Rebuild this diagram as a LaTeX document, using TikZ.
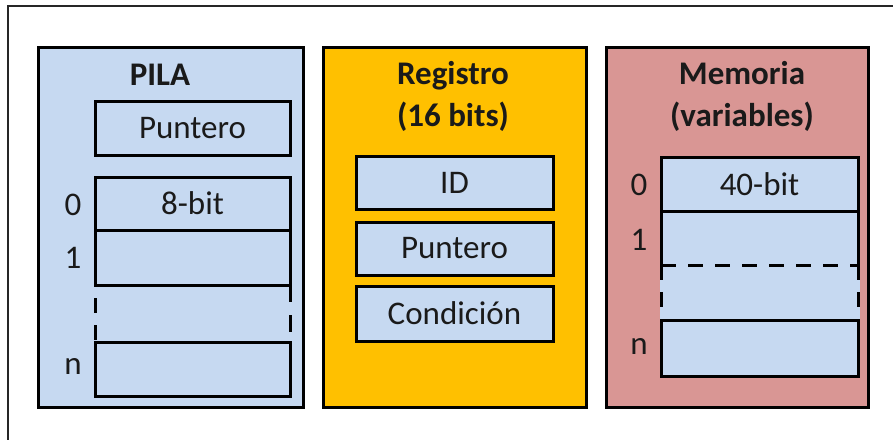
\documentclass[tikz,border=0pt]{standalone}
\usepackage{fontspec}
\setmainfont{Carlito}
\definecolor{cellblue}{HTML}{C6D9F1}
\definecolor{regorange}{HTML}{FFC000}
\definecolor{memred}{HTML}{D99694}
\definecolor{txt}{HTML}{1A1A1A}
\begin{document}
\begin{tikzpicture}[x=1pt,y=-1pt,
  every node/.style={inner sep=0pt,outer sep=0pt,text=txt,font=\fontsize{33}{42}\selectfont},
  panel/.style={draw=black,line width=3pt,minimum width=#1,minimum height=360pt},
  cell/.style={draw=black,line width=3pt,fill=cellblue,minimum width=195pt},
  cellnb/.style={fill=cellblue,minimum width=197pt},
  dsh/.style={line width=3pt,dash pattern=on 15pt off 12pt},
  title/.style={font=\fontsize{33}{42}\selectfont\bfseries,align=center},
  idx/.style={anchor=center}]
\useasboundingbox (0,0) rectangle (893,439);
% outer frame
\coordinate (fbl) at (8,445);
\coordinate (ftl) at (8,6);
\coordinate (ftr) at (900,6);
\draw[line width=2pt,black!85] (fbl) -- (ftl) -- (ftr);

% PILA
\node[panel=265pt,fill=cellblue] (pila) at (170.5,227) {};
\node[title] (pilat) at (160,75) {PILA};
\node[cell,minimum height=54pt] (pp) at (192.5,128) {Puntero};
\node[cell,minimum height=53pt] (p0) at (192.5,203.5) {8-bit};
\node[cell,minimum height=55pt] (p1) at (192.5,257.5) {};
\node[cell,minimum height=54pt] (pn) at (192.5,369) {};
\draw[dsh,dash phase=-13pt] (p1.south west) -- (pn.north west);
\draw[dsh,dash pattern=on 17pt off 13pt] (p1.south east) -- (pn.north east);
\node[idx] (l0) at (73,205) {0};
\node[idx] (l1) at (73,258) {1};
\node[idx] (ln) at (73,366) {n};

% Registro
\node[panel=263pt,fill=regorange] (reg) at (454.5,227) {};
\node[title] (regt) at (453,96) {Registro\\(16 bits)};
\node[cell,minimum width=197pt,minimum height=53pt] (rid) at (454.5,182.5) {ID};
\node[cell,minimum width=197pt,minimum height=53pt] (rpt) at (454.5,248.5) {Puntero};
\node[cell,minimum width=197pt,minimum height=55pt] (rcd) at (454.5,313.5) {Condición};

% Memoria
\node[panel=262pt,fill=memred] (mem) at (737,227) {};
\node[title] (memt) at (742,96) {Memoria\\(variables)};
\node[cellnb,minimum width=200pt,minimum height=57pt] (mg) at (759.5,292.5) {};
\node[cellnb,minimum height=54pt] (m1) at (759.5,238) {};
\draw[line width=3pt] (m1.south west) -- (m1.north west) -- (m1.north east) -- (m1.south east);
\node[cell,minimum width=197pt,minimum height=54pt] (m0) at (759.5,184) {40-bit};
\node[cell,minimum width=197pt,minimum height=56pt] (mn) at (759.5,348) {};
\draw[dsh] (m1.south west) -- (m1.south east);
\draw[dsh] (m1.south west) -- (mn.north west);
\draw[dsh] (m1.south east) -- (mn.north east);
\node[idx] (k0) at (639,185) {0};
\node[idx] (k1) at (639,240) {1};
\node[idx] (kn) at (639,346) {n};
\end{tikzpicture}
\end{document}
